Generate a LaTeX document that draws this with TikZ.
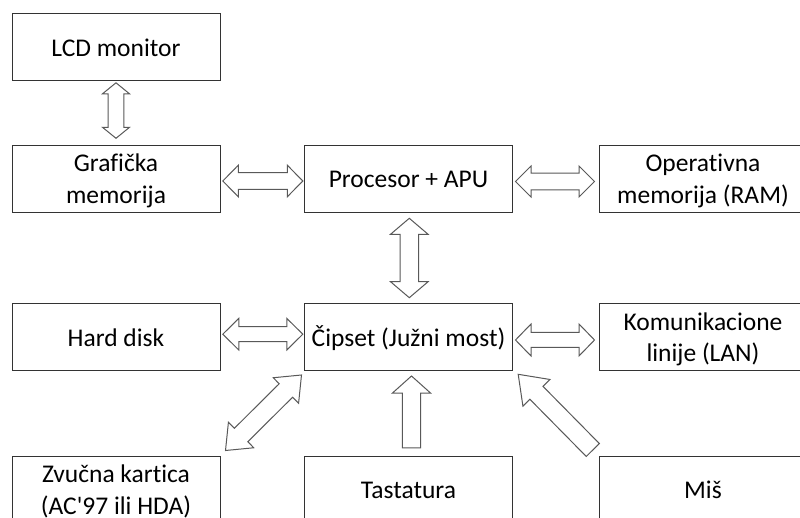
\documentclass[tikz,border=0pt]{standalone}
\usepackage{fontspec}
\newfontfamily\calib{Carlito}[Ligatures=NoCommon]
\usetikzlibrary{calc}
\newcommand{\strutA}{\rule{0pt}{24pt}}
\newcommand{\strutB}{\rule[-6pt]{0pt}{6pt}}
\tikzset{
  box/.style={draw=black!80, line width=1pt, fill=white, rectangle,
    minimum width=208pt, minimum height=67pt, inner sep=0pt,
    align=center, text=black, font=\calib\fontsize{25.5}{32}\selectfont},
  blockarr/.style={draw=black!65, line width=1pt, fill=white, line join=miter}
}
% double block arrow: #1 start, #2 end, #3 shaft half width, #4 head half width, #5 head length
\newcommand{\dblarrow}[5]{%
  \coordinate (ba) at ($(#1)!#5!(#2)$);
  \coordinate (bb) at ($(#2)!#5!(#1)$);
  \draw[blockarr] (#1) -- ($(ba)!#4!90:(#2)$) -- ($(ba)!#3!90:(#2)$)
    -- ($(bb)!#3!-90:(#1)$) -- ($(bb)!#4!-90:(#1)$) -- (#2)
    -- ($(bb)!#4!90:(#1)$) -- ($(bb)!#3!90:(#1)$)
    -- ($(ba)!#3!-90:(#2)$) -- ($(ba)!#4!-90:(#2)$) -- cycle;}
% single block arrow: #1 tail, #2 tip
\newcommand{\sglarrow}[5]{%
  \coordinate (bb) at ($(#2)!#5!(#1)$);
  \draw[blockarr] ($(#1)!#3!90:(#2)$) -- ($(bb)!#3!-90:(#1)$) -- ($(bb)!#4!-90:(#1)$)
    -- (#2) -- ($(bb)!#4!90:(#1)$) -- ($(bb)!#3!90:(#1)$)
    -- ($(#1)!#3!-90:(#2)$) -- cycle;}
\begin{document}
\begin{tikzpicture}[x=1pt, y=-1pt]
\path[use as bounding box, clip] (0,0) rectangle (800,518);

\node[box] (lcd)  at (116,47.5)  {\strutA\strutB LCD monitor};
\node[box] (graf) at (116,179)   {\strutA Grafička\\\strutB memorija};
\node[box] (proc) at (408.5,179) {\strutA\strutB Procesor + APU};
\node[box] (ram)  at (703,179)   {\strutA Operativna\\\strutB memorija (RAM)};
\node[box] (hdd)  at (116,337)   {\strutA\strutB Hard disk};
\node[box] (chip) at (408.5,337) {\strutA\strutB Čipset (Južni most)};
\node[box] (lan)  at (703,337)   {\strutA Komunikacione\\\strutB linije (LAN)};
\node[box] (zvuk) at (116,489.5) {\strutA Zvučna kartica\\\strutB (AC'97 ili HDA)};
\node[box] (tast) at (408.5,489.5) {\strutA\strutB Tastatura};
\node[box] (mis)  at (703,489.5) {\strutA\strutB Miš};

% arrow end points
\coordinate (a1s) at ($(lcd.south)+(0,1.3)$);
\coordinate (a1e) at ($(graf.north)+(0,-6.7)$);
\coordinate (a2s) at ($(graf.east)+(2.3,2)$);
\coordinate (a2e) at ($(proc.west)+(-1.2,2)$);
\coordinate (a3s) at ($(proc.east)+(2.5,2.5)$);
\coordinate (a3e) at ($(ram.west)+(-4,2.5)$);
\coordinate (a4s) at ($(proc.south)+(0.8,5.3)$);
\coordinate (a4e) at ($(chip.north)+(0.8,-5.3)$);
\coordinate (a5s) at ($(hdd.east)+(2.3,-2.8)$);
\coordinate (a5e) at ($(chip.west)+(-1.2,-2.8)$);
\coordinate (a6s) at ($(chip.east)+(2.5,3)$);
\coordinate (a6e) at ($(lan.west)+(-4,3)$);
\coordinate (a7s) at ($(zvuk.north east)+(5,-5)$);
\coordinate (a7e) at ($(chip.south west)+(-2.5,4)$);
\coordinate (a8s) at ($(tast.north)+(3,-7.7)$);
\coordinate (a8e) at ($(chip.south)+(3,5)$);
\coordinate (a9s) at ($(mis.north west)+(-5.7,-5.5)$);
\coordinate (a9e) at ($(chip.south east)+(5.2,3.3)$);

\dblarrow{a1s}{a1e}{7.8pt}{13.5pt}{11pt}
\dblarrow{a2s}{a2e}{8.3pt}{15.8pt}{15.5pt}
\dblarrow{a3s}{a3e}{8.3pt}{15.5pt}{15.5pt}
\dblarrow{a4s}{a4e}{9.2pt}{18.8pt}{16pt}
\dblarrow{a5s}{a5e}{7.5pt}{15.8pt}{16pt}
\dblarrow{a6s}{a6e}{7.5pt}{16pt}{15.5pt}
\dblarrow{a7s}{a7e}{9.5pt}{18pt}{22pt}
\sglarrow{a8s}{a8e}{9.2pt}{19pt}{17pt}
\sglarrow{a9s}{a9e}{9.2pt}{19pt}{26pt}
\end{tikzpicture}
\end{document}
